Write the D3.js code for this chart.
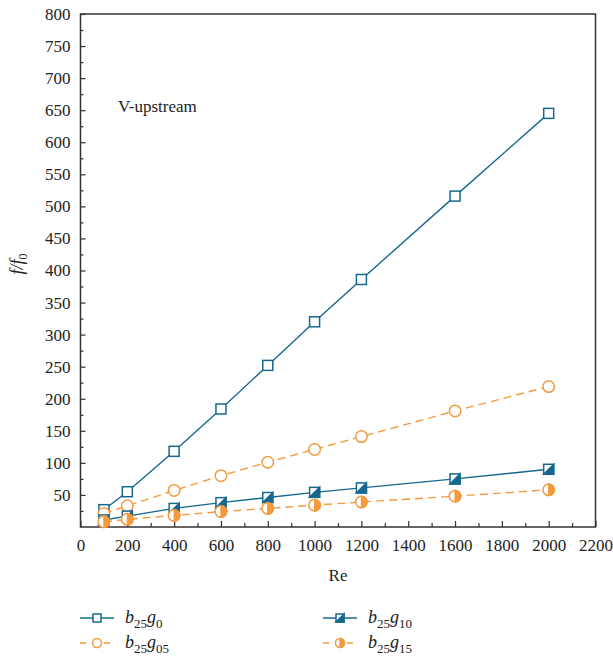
<!DOCTYPE html>
<html>
<head>
<meta charset="utf-8">
<script src="https://cdn.jsdelivr.net/npm/d3@7"></script>
<style>
  html, body { margin: 0; padding: 0; background: #fff; }
  svg { display: block; }
</style>
</head>
<body>
<svg id="chart" width="613" height="658"></svg>
<script>
// Reynolds numbers sampled
const re = [100, 200, 400, 600, 800, 1000, 1200, 1600, 2000];

// Friction factor ratio f/f0 for each configuration
const b25g0  = [27, 55, 118, 184, 252, 320, 386, 516, 645];
const b25g05 = [21, 33, 57, 80, 101, 121, 141, 181, 219];
const b25g10 = [11, 17, 29, 38, 46, 54, 61, 75, 90];
const b25g15 = [8, 12, 18, 24, 29, 34, 39, 48, 58];

const xTicks = [0, 200, 400, 600, 800, 1000, 1200, 1400, 1600, 1800, 2000, 2200];
const yTicks = [50, 100, 150, 200, 250, 300, 350, 400, 450, 500, 550, 600, 650, 700, 750, 800];

const BLUE = "#17688f";
const ORANGE = "#f39a3d";
const FONT = '"Liberation Serif", "DejaVu Serif", serif';

const svg = d3.select("#chart");
const m = { left: 80.5, right: 595.5, top: 14, bottom: 527 };

const x = d3.scaleLinear().domain([0, 2200]).range([m.left, m.right]);
const y = d3.scaleLinear().domain([0, 800]).range([m.bottom, m.top]);

// frame
svg.append("rect")
  .attr("x", m.left).attr("y", m.top)
  .attr("width", m.right - m.left).attr("height", m.bottom - m.top)
  .attr("fill", "none").attr("stroke", "#333").attr("stroke-width", 1.5);

// x axis: inward ticks
const xAxis = d3.axisBottom(x).tickValues(xTicks).tickSize(-6).tickPadding(12)
  .tickFormat(d3.format("d"));
const gx = svg.append("g").attr("transform", `translate(0,${m.bottom})`).call(xAxis)
  .attr("font-family", FONT).attr("font-size", 17);
gx.select(".domain").remove();
gx.selectAll("line").attr("stroke", "#333").attr("stroke-width", 1.2);
gx.selectAll("text").attr("fill", "#222");
const gxm = svg.append("g").attr("transform", `translate(0,${m.bottom})`)
  .call(d3.axisBottom(x).tickValues(d3.range(100, 2200, 200)).tickSize(-4).tickFormat(""));
gxm.select(".domain").remove();
gxm.selectAll("line").attr("stroke", "#333").attr("stroke-width", 1.2);

// y axis: inward ticks
const yAxis = d3.axisLeft(y).tickValues(yTicks).tickSize(-5).tickPadding(10)
  .tickFormat(d3.format("d"));
const gy = svg.append("g").attr("transform", `translate(${m.left},0)`).call(yAxis)
  .attr("font-family", FONT).attr("font-size", 17);
gy.select(".domain").remove();
gy.selectAll("line").attr("stroke", "#333").attr("stroke-width", 1.2);
gy.selectAll("text").attr("fill", "#222");
const gym = svg.append("g").attr("transform", `translate(${m.left},0)`)
  .call(d3.axisLeft(y).tickValues(d3.range(25, 800, 50)).tickSize(-3).tickFormat(""));
gym.select(".domain").remove();
gym.selectAll("line").attr("stroke", "#333").attr("stroke-width", 1.2);

// axis titles
svg.append("text").attr("x", x(1100)).attr("y", 581)
  .attr("text-anchor", "middle").attr("font-family", FONT).attr("font-size", 17)
  .attr("fill", "#222").text("Re");

const yl = svg.append("text")
  .attr("transform", `translate(23,${y(410)}) rotate(-90)`)
  .attr("text-anchor", "middle").attr("font-family", FONT).attr("font-size", 18)
  .attr("font-style", "italic").attr("fill", "#222");
yl.append("tspan").text("f");
yl.append("tspan").text("/");
yl.append("tspan").text("f");
yl.append("tspan").attr("dy", 4).attr("font-size", 12).attr("font-style", "normal").text("0");

svg.append("text").attr("x", 118).attr("y", 112)
  .attr("font-family", FONT).attr("font-size", 17).attr("fill", "#222").text("V-upstream");

const series = [
  { name: ["25", "0"],  vals: b25g0,  color: BLUE,   dash: null,  shape: "square", fill: "none" },
  { name: ["25", "05"], vals: b25g05, color: ORANGE, dash: "8,5", shape: "circle", fill: "none" },
  { name: ["25", "10"], vals: b25g10, color: BLUE,   dash: null,  shape: "square", fill: "half" },
  { name: ["25", "15"], vals: b25g15, color: ORANGE, dash: "8,5", shape: "circle", fill: "half" }
];

function drawMarker(g, cx, cy, s, size) {
  const h = size / 2;
  if (s.shape === "square") {
    g.append("rect").attr("x", cx - h).attr("y", cy - h).attr("width", size).attr("height", size)
      .attr("fill", "#fff").attr("stroke", s.color).attr("stroke-width", 1.5);
    if (s.fill === "half") {
      g.append("path")
        .attr("d", `M${cx + h},${cy - h}L${cx + h},${cy + h}L${cx - h},${cy + h}Z`)
        .attr("fill", s.color).attr("stroke", s.color).attr("stroke-width", 1.5);
    }
  } else {
    const r = h;
    g.append("circle").attr("cx", cx).attr("cy", cy).attr("r", r)
      .attr("fill", "#fff").attr("stroke", s.color).attr("stroke-width", 1.5);
    if (s.fill === "half") {
      g.append("path")
        .attr("d", `M${cx},${cy - r}A${r},${r} 0 0 1 ${cx},${cy + r}Z`)
        .attr("fill", s.color).attr("stroke", s.color).attr("stroke-width", 1.2);
    }
  }
}

const line = d3.line().x((d, i) => x(re[i])).y(d => y(d));

series.forEach(s => {
  svg.append("path").datum(s.vals)
    .attr("d", line)
    .attr("fill", "none")
    .attr("stroke", s.color)
    .attr("stroke-width", 1.4)
    .attr("stroke-dasharray", s.dash);
});
series.forEach(s => {
  const g = svg.append("g");
  s.vals.forEach((v, i) => drawMarker(g, x(re[i]), y(v), s, s.shape === "square" ? 10 : 11.5));
});

// legend
const legendPos = [
  { lx: 80, ly: 618 }, { lx: 80, ly: 643 },
  { lx: 323, ly: 618 }, { lx: 323, ly: 643 }
];
series.forEach((s, k) => {
  const p = legendPos[k];
  const g = svg.append("g");
  g.append("line").attr("x1", p.lx).attr("x2", p.lx + 34).attr("y1", p.ly).attr("y2", p.ly)
    .attr("stroke", s.color).attr("stroke-width", 1.4)
    .attr("stroke-dasharray", s.dash ? "6,6" : null);
  drawMarker(g, p.lx + 17, p.ly, s, s.shape === "square" ? 8 : 9);
  const t = g.append("text").attr("x", p.lx + 45).attr("y", p.ly + 5)
    .attr("font-family", FONT).attr("font-size", 18).attr("fill", "#222");
  t.append("tspan").attr("font-style", "italic").text("b");
  t.append("tspan").attr("dy", 5).attr("font-size", 13).text(s.name[0]);
  t.append("tspan").attr("dy", -5).attr("font-style", "italic").text("g");
  t.append("tspan").attr("dy", 5).attr("font-size", 13).text(s.name[1]);
});
</script>
</body>
</html>
